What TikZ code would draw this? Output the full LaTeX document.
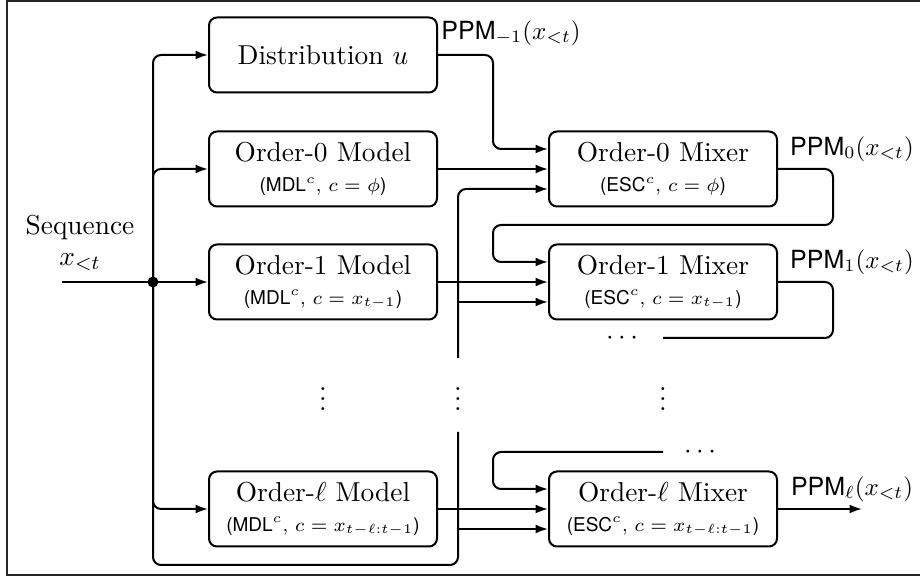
\RequirePackage{fix-cm}
\documentclass[tikz,border=0pt]{standalone}
\usepackage{fontspec}
\setsansfont{TeX Gyre Heros}
\usetikzlibrary{arrows.meta,calc}
\newcommand{\subsz}{\fontsize{7.6}{9}\selectfont}
\newcommand{\mainsz}{\fontsize{10.95}{13}\selectfont}
\begin{document}
\begin{tikzpicture}[x=0.4pt,y=-0.4pt,
  box/.style={draw,thick,rounded corners=3.2pt,minimum width=91.2pt,minimum height=30pt,align=center,inner sep=0pt,font=\mainsz},
  conn/.style={thick,rounded corners=3.2pt},
  arr/.style={conn,-{Latex[length=5pt,width=3.6pt]}},
  lbl/.style={inner sep=0pt,font=\mainsz},
  ppm/.style={inner sep=0pt}]
\useasboundingbox (0,0) rectangle (920,578);
\draw[line width=0.8pt,black!85] (920,1) -- (7,1) -- (7,575) -- (920,575);

% models
\node[box] (dist) at (323,55) {Distribution $u$};
\node[box] (m0) at (323,169) {Order-$0$ Model\\[-1pt]{\subsz\textsf{(MDL}$^c$, $c=\phi$\textsf{)}}};
\node[box] (m1) at (323,282) {Order-$1$ Model\\[-1pt]{\subsz\textsf{(MDL}$^c$, $c=x_{t-1}$\textsf{)}}};
\node[box] (ml) at (323,509) {Order-$\ell$ Model\\[-1pt]{\subsz\textsf{(MDL}$^c$, $c=x_{t-\ell:t-1}$\textsf{)}}};
% mixers
\node[box] (x0) at (663,169) {Order-$0$ Mixer\\[-1pt]{\subsz\textsf{(ESC}$^c$, $c=\phi$\textsf{)}}};
\node[box] (x1) at (663,282) {Order-$1$ Mixer\\[-1pt]{\subsz\textsf{(ESC}$^c$, $c=x_{t-1}$\textsf{)}}};
\node[box] (xl) at (663,509) {Order-$\ell$ Mixer\\[-1pt]{\subsz\textsf{(ESC}$^c$, $c=x_{t-\ell:t-1}$\textsf{)}}};

% labels
\node[lbl] (seq) at (80,228) {Sequence};
\node[lbl] (xin) at (80,262) {$x_{<t}$};
\node[ppm] (p-1) at (511,33) {\textsf{PPM}$_{-1}(x_{<t})$};
\node[ppm] (p0) at (852,149) {\textsf{PPM}$_{0}(x_{<t})$};
\node[ppm] (p1) at (852,262) {\textsf{PPM}$_{1}(x_{<t})$};
\node[ppm] (pl) at (852,489) {\textsf{PPM}$_{\ell}(x_{<t})$};
\node[lbl] (vd1) at (323,392) {$\vdots$};
\node[lbl] (vd2) at (458,392) {$\vdots$};
\node[lbl] (vd3) at (663,392) {$\vdots$};
\node[lbl] (hd1) at (622,338) {$\cdots$};
\node[lbl] (hd2) at (700,452) {$\cdots$};

% mixer input points
\foreach \m in {x0,x1,xl}{
  \coordinate (\m a) at ($(\m.west)+(0,-20)$);
  \coordinate (\m b) at (\m.west);
  \coordinate (\m c) at ($(\m.west)+(0,20)$);
}
\coordinate (colL) at (493,0);
\coordinate (colR) at (833,0);
\coordinate (in) at (62,282);
\node[circle,fill,inner sep=0pt,minimum size=4.4pt] (j) at (153,282) {};
\coordinate (b1) at (153,565);
\coordinate (b2) at (458,565);
\coordinate (gapb) at (458,432);
\coordinate (gapt) at (458,358);
\coordinate (e1) at (663,338);
\coordinate (e2) at (663,452);

% input fan-out
\draw[thick] (in) -- (j.center);
\draw[arr] (j.center) |- (dist.west);
\draw[arr] (j.center) |- (m0.west);
\draw[arr] (j.center) -- (m1.west);
\draw[arr] (j.center) |- (ml.west);
\draw[conn] (j.center) -- (b1) -- (b2) -- (gapb);
\draw[arr] (gapt) |- (x0c);
\draw[arr] (gapt |- x1c) -- (x1c);
\draw[arr] (gapb |- xlc) -- (xlc);

% model outputs
\draw[arr] (m0.east) -- (x0b);
\draw[arr] (m1.east) -- (x1b);
\draw[arr] (ml.east) -- (xlb);
\draw[arr] (dist.east) -| (colL |- x0a) -- (x0a);

% mixer chain
\draw[arr] (x0.east) -- (colR |- x0.east) -- ($(colR)+(0,225)$) -- ($(colL)+(0,225)$) -- (colL |- x1a) -- (x1a);
\draw[conn] (x1.east) -- (colR |- x1.east) -- (colR |- e1) -- (e1);
\draw[arr] (e2) -- (colL |- e2) -- (colL |- xla) -- (xla);
\coordinate (out) at (862,509);
\draw[arr] (xl.east) -- (out);
\end{tikzpicture}
\end{document}
